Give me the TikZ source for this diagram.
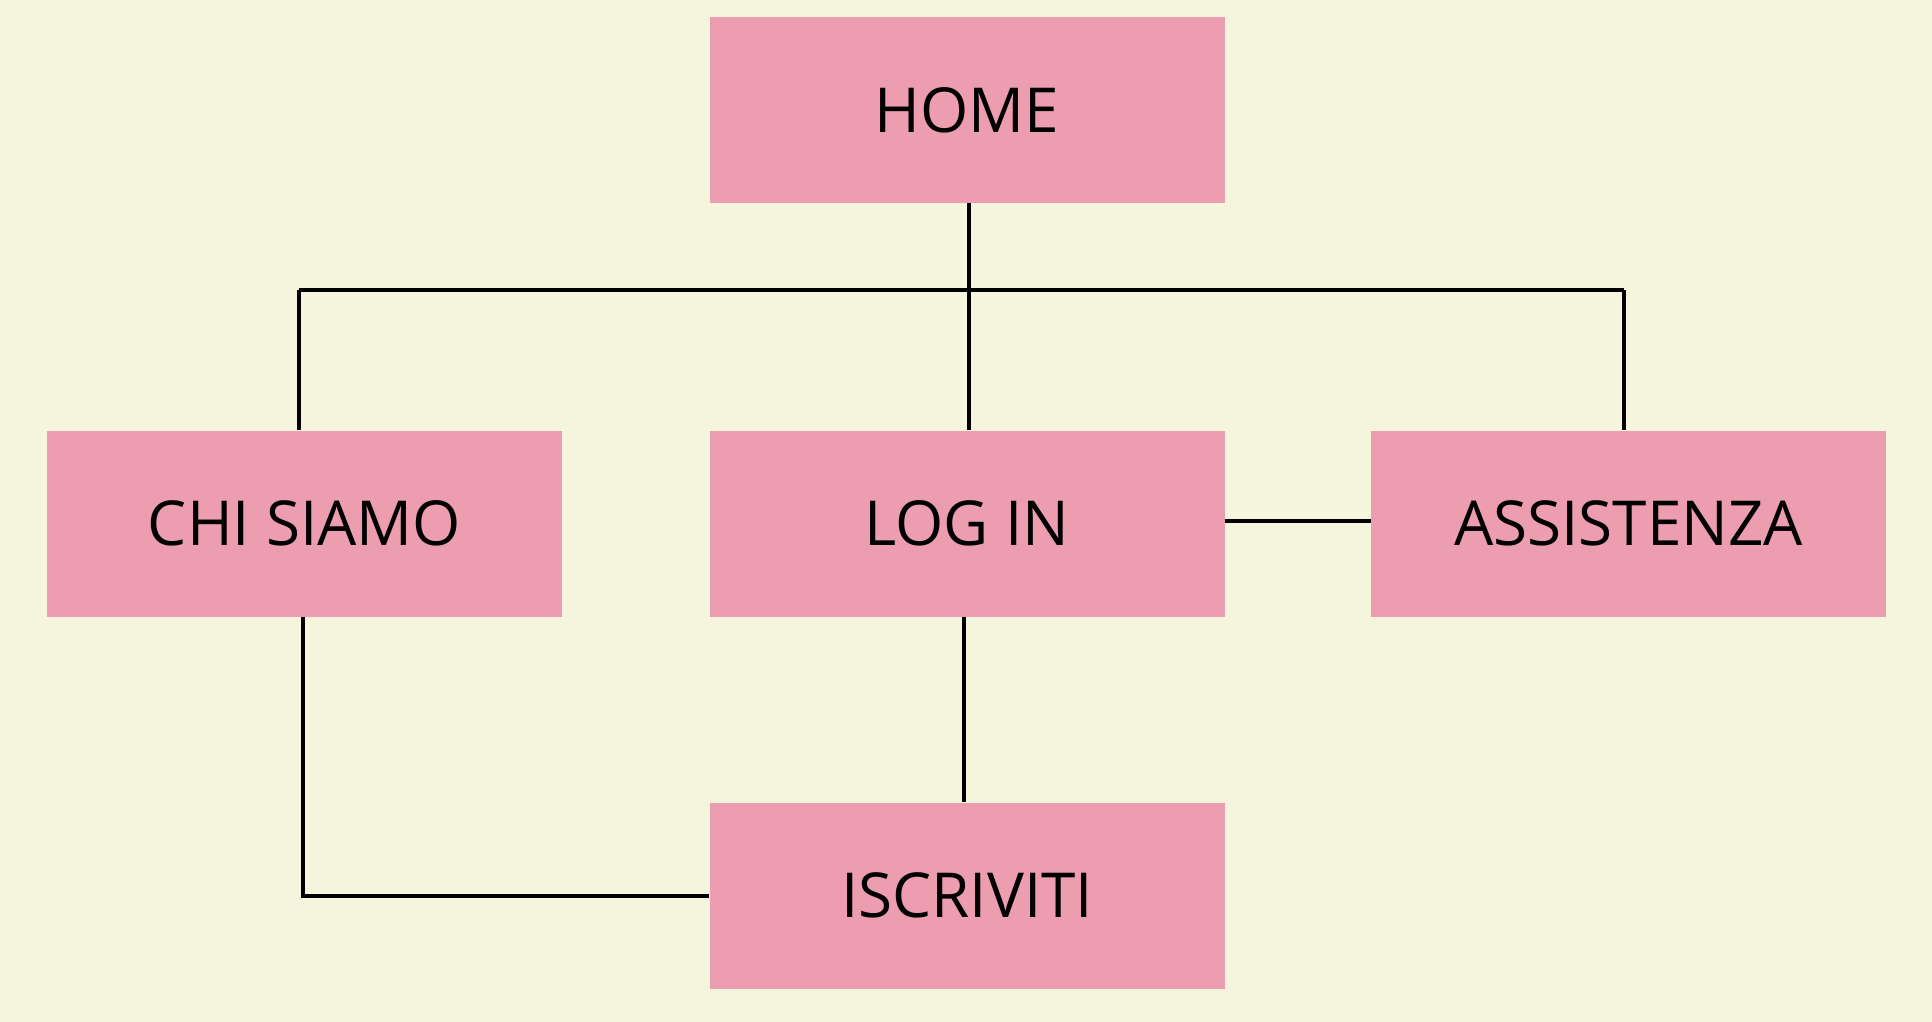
\documentclass[tikz,border=0pt]{standalone}
\usepackage{fontspec}
\setmainfont{Open Sans}
\definecolor{cream}{RGB}{245,245,221}
\definecolor{boxpink}{RGB}{236,157,176}
\tikzset{
    page/.style={fill=cream},
    box/.style={fill=boxpink, minimum width=515pt, minimum height=186pt, inner sep=0pt, font=\fontsize{62}{74}\selectfont},
    link/.style={line width=4pt}
}
\begin{document}
\begin{tikzpicture}[x=1pt, y=-1pt]
    \fill[page] (0, 0) rectangle (1932, 1022);
    \useasboundingbox (0, 0) rectangle (1932, 1022);
    \node[box] (home) at (967, 110) {HOME};
    \node[box] (chi) at (304.5, 523.5) {CHI SIAMO};
    \node[box] (login) at (967, 523.5) {LOG IN};
    \node[box] (assist) at (1628.5, 523.5) {ASSISTENZA};
    \node[box] (iscr) at (967, 895.5) {ISCRIVITI};
    \coordinate (busL) at (299, 290);
    \coordinate (busR) at (1624, 290);
    \coordinate (busM) at (969, 290);
    \draw[link] (home.south -| busM) to (busM);
    \draw[link] (busL) to (busR);
    \draw[link] (busL) to (busL |- chi.north);
    \draw[link] (busM) to (busM |- login.north);
    \draw[link] (busR) to (busR |- assist.north);
    \draw[link] (login.east |- 0, 521) to (assist.west |- 0, 521);
    \draw[link] ([xshift=-3pt]login.south) to ([xshift=-3pt]login.south |- iscr.north);
    \draw[link] ([xshift=-2pt]chi.south) |- (iscr.west);
\end{tikzpicture}
\end{document}
